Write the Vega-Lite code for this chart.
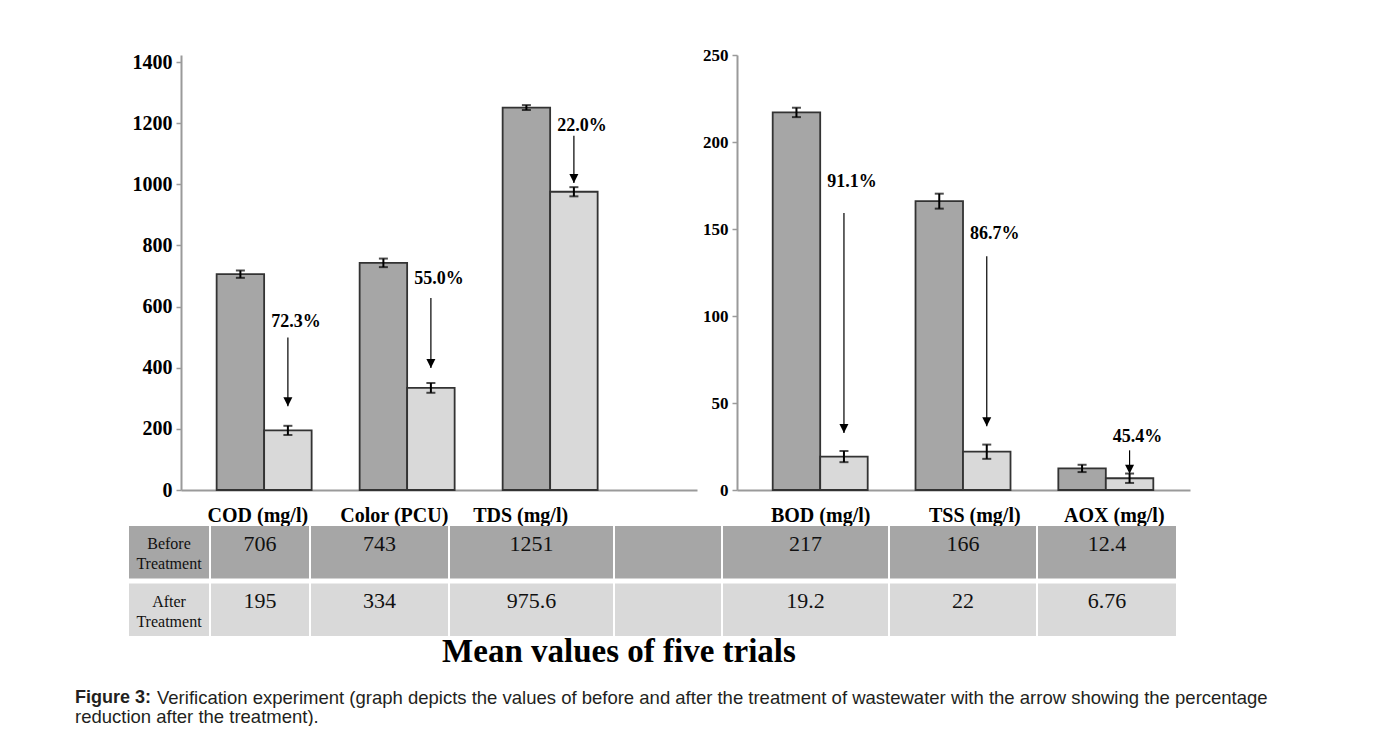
{
  "$schema": "https://vega.github.io/schema/vega-lite/v6.json",
  "padding": {"left": 75, "top": 46, "right": 0, "bottom": 0},
  "background": "white",
  "config": {"view": {"stroke": null}},
  "datasets": {
    "bars": [
      {"panel": "left", "param": "COD (mg/l)", "phase": "Before", "value": 706, "lo": 694, "hi": 718},
      {"panel": "left", "param": "COD (mg/l)", "phase": "After", "value": 195, "lo": 180, "hi": 210},
      {"panel": "left", "param": "Color (PCU)", "phase": "Before", "value": 743, "lo": 729, "hi": 757},
      {"panel": "left", "param": "Color (PCU)", "phase": "After", "value": 334, "lo": 318, "hi": 350},
      {"panel": "left", "param": "TDS (mg/l)", "phase": "Before", "value": 1251, "lo": 1243, "hi": 1259},
      {"panel": "left", "param": "TDS (mg/l)", "phase": "After", "value": 975.6, "lo": 960.6, "hi": 990.6},
      {"panel": "right", "param": "BOD (mg/l)", "phase": "Before", "value": 217, "lo": 214.3, "hi": 219.7},
      {"panel": "right", "param": "BOD (mg/l)", "phase": "After", "value": 19.2, "lo": 16, "hi": 22.4},
      {"panel": "right", "param": "TSS (mg/l)", "phase": "Before", "value": 166, "lo": 161.7, "hi": 170.3},
      {"panel": "right", "param": "TSS (mg/l)", "phase": "After", "value": 22, "lo": 17.9, "hi": 26.1},
      {"panel": "right", "param": "AOX (mg/l)", "phase": "Before", "value": 12.4, "lo": 10.3, "hi": 14.5},
      {"panel": "right", "param": "AOX (mg/l)", "phase": "After", "value": 6.76, "lo": 4.06, "hi": 9.46}
    ],
    "notes": [
      {"panel": "left", "param": "COD (mg/l)", "phase": "After", "pct": "72.3%", "label_y": 548, "arrow_top": 499, "arrow_tip": 274},
      {"panel": "left", "param": "Color (PCU)", "phase": "After", "pct": "55.0%", "label_y": 690, "arrow_top": 628, "arrow_tip": 399},
      {"panel": "left", "param": "TDS (mg/l)", "phase": "After", "pct": "22.0%", "label_y": 1191, "arrow_top": 1159, "arrow_tip": 1004},
      {"panel": "right", "param": "BOD (mg/l)", "phase": "After", "pct": "91.1%", "label_y": 176.8, "arrow_top": 159.2, "arrow_tip": 32.8},
      {"panel": "right", "param": "TSS (mg/l)", "phase": "After", "pct": "86.7%", "label_y": 147.1, "arrow_top": 134.3, "arrow_tip": 36.6},
      {"panel": "right", "param": "AOX (mg/l)", "phase": "After", "pct": "45.4%", "label_y": 30.5, "arrow_top": 22.8, "arrow_tip": 9.4}
    ],
    "rowlabels": [
      {"col": "label", "phase": "Before", "label": ["Before", "Treatment"]},
      {"col": "label", "phase": "After", "label": ["After", "Treatment"]}
    ],
    "blank": [
      {"col": "gap", "phase": "Before"},
      {"col": "gap", "phase": "After"}
    ],
    "caption": [
      {"line": 1, "part": "title", "text": "Mean values of five trials"},
      {"line": 1, "part": "bold", "text": "Figure 3:"},
      {"line": 1, "part": "normal", "text": "Verification experiment (graph depicts the values of before and after the treatment of wastewater with the arrow showing the percentage"},
      {"line": 2, "part": "normal", "text": "reduction after the treatment)."}
    ]
  },
  "spacing": 0,
  "vconcat": [
    {
      "spacing": 40,
      "bounds": "flush",
      "hconcat": [
        {"width": 66, "height": 471, "data": {"values": []}, "mark": "point"},
        {
          "width": 516, "height": 435,
          "data": {"name": "bars"},
          "transform": [{"filter": "datum.panel === 'left'"}],
          "encoding": {
            "x": {"field": "param", "type": "nominal", "sort": ["COD (mg/l)", "Color (PCU)", "TDS (mg/l)"], "title": null,
                  "scale": {"paddingInner": 0.3357, "paddingOuter": 0.472, "align": 0.264},
                  "axis": {"ticks": false, "tickSize": 0, "domainColor": "#9a9a9a", "domainWidth": 2, "labelAngle": 0, "labelOverlap": false, "labelLimit": 0,
                           "labelFont": "Liberation Serif", "labelFontWeight": "bold", "labelFontSize": 20, "labelColor": "#000000", "labelPadding": 15.5,
                           "labelOffset": {"condition": [{"test": "datum.value === 'Color (PCU)'", "value": -12.8}, {"test": "datum.value === 'TDS (mg/l)'", "value": -29.5}], "value": -6.3}}},
            "xOffset": {"field": "phase", "type": "nominal", "sort": ["Before", "After"], "scale": {"paddingInner": 0, "paddingOuter": 0}}
          },
          "layer": [
            {"mark": {"type": "bar", "stroke": "#333333", "strokeWidth": 1.8},
             "encoding": {
               "y": {"field": "value", "type": "quantitative", "title": null,
                     "scale": {"domain": [0, 1422.9], "nice": false},
                     "axis": {"values": [0, 200, 400, 600, 800, 1000, 1200, 1400], "format": "d", "grid": false, "domainColor": "#9a9a9a", "domainWidth": 2,
                              "tickColor": "#9a9a9a", "tickSize": 5, "tickWidth": 1.5, "labelFont": "Liberation Serif", "labelFontWeight": "bold",
                              "labelFontSize": 20, "labelColor": "#000000", "labelPadding": 4}},
               "fill": {"field": "phase", "type": "nominal", "scale": {"domain": ["Before", "After"], "range": ["#a6a6a6", "#d9d9d9"]}, "legend": null}
             }},
            {"mark": {"type": "rule", "color": "#000000", "strokeWidth": 2},
             "encoding": {"y": {"field": "lo", "type": "quantitative", "title": null}, "y2": {"field": "hi"}}},
            {"mark": {"type": "tick", "color": "#000000", "thickness": 2, "size": 9},
             "encoding": {"y": {"field": "lo", "type": "quantitative", "title": null}}},
            {"mark": {"type": "tick", "color": "#000000", "thickness": 2, "size": 9},
             "encoding": {"y": {"field": "hi", "type": "quantitative", "title": null}}},
            {"data": {"name": "notes"}, "transform": [{"filter": "datum.panel === 'left'"}],
             "mark": {"type": "rule", "color": "#000000", "strokeWidth": 1.2},
             "encoding": {"y": {"field": "arrow_top", "type": "quantitative", "title": null}, "y2": {"field": "arrow_tip"}}},
            {"data": {"name": "notes"}, "transform": [{"filter": "datum.panel === 'left'"}],
             "mark": {"type": "point", "shape": "M-1,-2L1,-2L0,0Z", "filled": true, "color": "#000000", "size": 81, "opacity": 1},
             "encoding": {"y": {"field": "arrow_tip", "type": "quantitative", "title": null}}},
            {"data": {"name": "notes"}, "transform": [{"filter": "datum.panel === 'left'"}],
             "mark": {"type": "text", "font": "Liberation Serif", "fontWeight": "bold", "fontSize": 18, "dx": 8, "baseline": "middle", "color": "#000000"},
             "encoding": {"y": {"field": "label_y", "type": "quantitative", "title": null}, "text": {"field": "pct"}}}
          ]
        },
        {
          "width": 453, "height": 435,
          "data": {"name": "bars"},
          "transform": [{"filter": "datum.panel === 'right'"}],
          "encoding": {
            "x": {"field": "param", "type": "nominal", "sort": ["BOD (mg/l)", "TSS (mg/l)", "AOX (mg/l)"], "title": null,
                  "scale": {"paddingInner": 0.328, "paddingOuter": 0.25},
                  "axis": {"ticks": false, "tickSize": 0, "domainColor": "#9a9a9a", "domainWidth": 2, "labelAngle": 0, "labelOverlap": false, "labelLimit": 0,
                           "labelFont": "Liberation Serif", "labelFontWeight": "bold", "labelFontSize": 20, "labelColor": "#000000", "labelPadding": 15.5,
                           "labelOffset": {"condition": [{"test": "datum.value === 'TSS (mg/l)'", "value": 11.3}, {"test": "datum.value === 'AOX (mg/l)'", "value": 8}], "value": 0}}},
            "xOffset": {"field": "phase", "type": "nominal", "sort": ["Before", "After"], "scale": {"paddingInner": 0, "paddingOuter": 0}}
          },
          "layer": [
            {"mark": {"type": "bar", "stroke": "#333333", "strokeWidth": 1.8},
             "encoding": {
               "y": {"field": "value", "type": "quantitative", "title": null,
                     "scale": {"domain": [0, 250], "nice": false},
                     "axis": {"values": [0, 50, 100, 150, 200, 250], "format": "d", "grid": false, "domainColor": "#9a9a9a", "domainWidth": 2,
                              "tickColor": "#9a9a9a", "tickSize": 5, "tickWidth": 1.5, "labelFont": "Liberation Serif", "labelFontWeight": "bold",
                              "labelFontSize": 17, "labelColor": "#000000", "labelPadding": 4}},
               "fill": {"field": "phase", "type": "nominal", "scale": {"domain": ["Before", "After"], "range": ["#a6a6a6", "#d9d9d9"]}, "legend": null}
             }},
            {"mark": {"type": "rule", "color": "#000000", "strokeWidth": 2},
             "encoding": {"y": {"field": "lo", "type": "quantitative", "title": null}, "y2": {"field": "hi"}}},
            {"mark": {"type": "tick", "color": "#000000", "thickness": 2, "size": 9},
             "encoding": {"y": {"field": "lo", "type": "quantitative", "title": null}}},
            {"mark": {"type": "tick", "color": "#000000", "thickness": 2, "size": 9},
             "encoding": {"y": {"field": "hi", "type": "quantitative", "title": null}}},
            {"data": {"name": "notes"}, "transform": [{"filter": "datum.panel === 'right'"}],
             "mark": {"type": "rule", "color": "#000000", "strokeWidth": 1.2},
             "encoding": {"y": {"field": "arrow_top", "type": "quantitative", "title": null}, "y2": {"field": "arrow_tip"}}},
            {"data": {"name": "notes"}, "transform": [{"filter": "datum.panel === 'right'"}],
             "mark": {"type": "point", "shape": "M-1,-2L1,-2L0,0Z", "filled": true, "color": "#000000", "size": 81, "opacity": 1},
             "encoding": {"y": {"field": "arrow_tip", "type": "quantitative", "title": null}}},
            {"data": {"name": "notes"}, "transform": [{"filter": "datum.panel === 'right'"}],
             "mark": {"type": "text", "font": "Liberation Serif", "fontWeight": "bold", "fontSize": 18, "dx": 8, "baseline": "middle", "color": "#000000"},
             "encoding": {"y": {"field": "label_y", "type": "quantitative", "title": null}, "text": {"field": "pct"}}}
          ]
        }
      ]
    },
    {
      "spacing": 2,
      "bounds": "flush",
      "hconcat": [
        {"width": 52, "height": 110, "data": {"values": []}, "mark": "point"},
        {
          "width": 80, "height": 110,
          "data": {"name": "rowlabels"},
          "encoding": {
            "x": {"field": "col", "type": "nominal", "axis": null, "scale": {"paddingInner": 0, "paddingOuter": 0}},
            "y": {"field": "phase", "type": "nominal", "sort": ["Before", "After"], "axis": null, "scale": {"paddingInner": 0.087, "paddingOuter": 0}}
          },
          "layer": [
            {"mark": {"type": "rect"}, "encoding": {"color": {"field": "phase", "type": "nominal", "scale": {"domain": ["Before", "After"], "range": ["#a6a6a6", "#d9d9d9"]}, "legend": null}}},
            {"mark": {"type": "text", "font": "Liberation Serif", "fontSize": 16, "lineHeight": 20, "color": "#111111", "baseline": "middle"},
             "encoding": {"text": {"field": "label"}, "y": {"field": "phase", "type": "nominal", "sort": ["Before", "After"], "bandPosition": 0.35}}}
          ]
        },
        {
          "width": 98, "height": 110,
          "data": {"name": "bars"}, "transform": [{"filter": "datum.param === 'COD (mg/l)'"}],
          "encoding": {
            "x": {"field": "param", "type": "nominal", "axis": null, "scale": {"paddingInner": 0, "paddingOuter": 0}},
            "y": {"field": "phase", "type": "nominal", "sort": ["Before", "After"], "axis": null, "scale": {"paddingInner": 0.087, "paddingOuter": 0}}
          },
          "layer": [
            {"mark": {"type": "rect"}, "encoding": {"color": {"field": "phase", "type": "nominal", "scale": {"domain": ["Before", "After"], "range": ["#a6a6a6", "#d9d9d9"]}, "legend": null}}},
            {"mark": {"type": "text", "font": "Liberation Serif", "fontSize": 22, "color": "#111111", "baseline": "middle"},
             "encoding": {"text": {"field": "value", "type": "nominal"}, "y": {"field": "phase", "type": "nominal", "sort": ["Before", "After"], "bandPosition": 0.34}}}
          ]
        },
        {
          "width": 137, "height": 110,
          "data": {"name": "bars"}, "transform": [{"filter": "datum.param === 'Color (PCU)'"}],
          "encoding": {
            "x": {"field": "param", "type": "nominal", "axis": null, "scale": {"paddingInner": 0, "paddingOuter": 0}},
            "y": {"field": "phase", "type": "nominal", "sort": ["Before", "After"], "axis": null, "scale": {"paddingInner": 0.087, "paddingOuter": 0}}
          },
          "layer": [
            {"mark": {"type": "rect"}, "encoding": {"color": {"field": "phase", "type": "nominal", "scale": {"domain": ["Before", "After"], "range": ["#a6a6a6", "#d9d9d9"]}, "legend": null}}},
            {"mark": {"type": "text", "font": "Liberation Serif", "fontSize": 22, "color": "#111111", "baseline": "middle"},
             "encoding": {"text": {"field": "value", "type": "nominal"}, "y": {"field": "phase", "type": "nominal", "sort": ["Before", "After"], "bandPosition": 0.34}}}
          ]
        },
        {
          "width": 163, "height": 110,
          "data": {"name": "bars"}, "transform": [{"filter": "datum.param === 'TDS (mg/l)'"}],
          "encoding": {
            "x": {"field": "param", "type": "nominal", "axis": null, "scale": {"paddingInner": 0, "paddingOuter": 0}},
            "y": {"field": "phase", "type": "nominal", "sort": ["Before", "After"], "axis": null, "scale": {"paddingInner": 0.087, "paddingOuter": 0}}
          },
          "layer": [
            {"mark": {"type": "rect"}, "encoding": {"color": {"field": "phase", "type": "nominal", "scale": {"domain": ["Before", "After"], "range": ["#a6a6a6", "#d9d9d9"]}, "legend": null}}},
            {"mark": {"type": "text", "font": "Liberation Serif", "fontSize": 22, "color": "#111111", "baseline": "middle"},
             "encoding": {"text": {"field": "value", "type": "nominal"}, "y": {"field": "phase", "type": "nominal", "sort": ["Before", "After"], "bandPosition": 0.34}}}
          ]
        },
        {
          "width": 106, "height": 110,
          "data": {"name": "blank"},
          "encoding": {
            "x": {"field": "col", "type": "nominal", "axis": null, "scale": {"paddingInner": 0, "paddingOuter": 0}},
            "y": {"field": "phase", "type": "nominal", "sort": ["Before", "After"], "axis": null, "scale": {"paddingInner": 0.087, "paddingOuter": 0}},
            "color": {"field": "phase", "type": "nominal", "scale": {"domain": ["Before", "After"], "range": ["#a6a6a6", "#d9d9d9"]}, "legend": null}
          },
          "mark": {"type": "rect"}
        },
        {
          "width": 165, "height": 110,
          "data": {"name": "bars"}, "transform": [{"filter": "datum.param === 'BOD (mg/l)'"}],
          "encoding": {
            "x": {"field": "param", "type": "nominal", "axis": null, "scale": {"paddingInner": 0, "paddingOuter": 0}},
            "y": {"field": "phase", "type": "nominal", "sort": ["Before", "After"], "axis": null, "scale": {"paddingInner": 0.087, "paddingOuter": 0}}
          },
          "layer": [
            {"mark": {"type": "rect"}, "encoding": {"color": {"field": "phase", "type": "nominal", "scale": {"domain": ["Before", "After"], "range": ["#a6a6a6", "#d9d9d9"]}, "legend": null}}},
            {"mark": {"type": "text", "font": "Liberation Serif", "fontSize": 22, "color": "#111111", "baseline": "middle"},
             "encoding": {"text": {"field": "value", "type": "nominal"}, "y": {"field": "phase", "type": "nominal", "sort": ["Before", "After"], "bandPosition": 0.34}}}
          ]
        },
        {
          "width": 146, "height": 110,
          "data": {"name": "bars"}, "transform": [{"filter": "datum.param === 'TSS (mg/l)'"}],
          "encoding": {
            "x": {"field": "param", "type": "nominal", "axis": null, "scale": {"paddingInner": 0, "paddingOuter": 0}},
            "y": {"field": "phase", "type": "nominal", "sort": ["Before", "After"], "axis": null, "scale": {"paddingInner": 0.087, "paddingOuter": 0}}
          },
          "layer": [
            {"mark": {"type": "rect"}, "encoding": {"color": {"field": "phase", "type": "nominal", "scale": {"domain": ["Before", "After"], "range": ["#a6a6a6", "#d9d9d9"]}, "legend": null}}},
            {"mark": {"type": "text", "font": "Liberation Serif", "fontSize": 22, "color": "#111111", "baseline": "middle"},
             "encoding": {"text": {"field": "value", "type": "nominal"}, "y": {"field": "phase", "type": "nominal", "sort": ["Before", "After"], "bandPosition": 0.34}}}
          ]
        },
        {
          "width": 138, "height": 110,
          "data": {"name": "bars"}, "transform": [{"filter": "datum.param === 'AOX (mg/l)'"}],
          "encoding": {
            "x": {"field": "param", "type": "nominal", "axis": null, "scale": {"paddingInner": 0, "paddingOuter": 0}},
            "y": {"field": "phase", "type": "nominal", "sort": ["Before", "After"], "axis": null, "scale": {"paddingInner": 0.087, "paddingOuter": 0}}
          },
          "layer": [
            {"mark": {"type": "rect"}, "encoding": {"color": {"field": "phase", "type": "nominal", "scale": {"domain": ["Before", "After"], "range": ["#a6a6a6", "#d9d9d9"]}, "legend": null}}},
            {"mark": {"type": "text", "font": "Liberation Serif", "fontSize": 22, "color": "#111111", "baseline": "middle"},
             "encoding": {"text": {"field": "value", "type": "nominal"}, "y": {"field": "phase", "type": "nominal", "sort": ["Before", "After"], "bandPosition": 0.34}}}
          ]
        }
      ]
    },
    {
      "width": 1100, "height": 18.5,
      "data": {"name": "caption"},
      "encoding": {
        "y": {"field": "line", "type": "ordinal", "axis": null, "scale": {"type": "point", "padding": 0}}
      },
      "layer": [
        {"transform": [{"filter": "datum.part === 'title'"}],
         "mark": {"type": "text", "align": "center", "baseline": "middle", "font": "Liberation Serif", "fontSize": 33, "fontWeight": "bold", "color": "#000000", "dx": -6, "dy": -46},
         "encoding": {"text": {"field": "text"}, "x": {"datum": 0.5, "type": "quantitative", "axis": null, "scale": {"domain": [0, 1]}}}},
        {"transform": [{"filter": "datum.part === 'bold'"}],
         "mark": {"type": "text", "align": "left", "baseline": "middle", "font": "Liberation Sans", "fontSize": 18, "fontWeight": "bold", "color": "#231f20"},
         "encoding": {"text": {"field": "text"}, "x": {"datum": 0, "type": "quantitative", "axis": null, "scale": {"domain": [0, 1]}}}},
        {"transform": [{"filter": "datum.part === 'normal' && datum.line === 1"}],
         "mark": {"type": "text", "align": "left", "baseline": "middle", "font": "Liberation Sans", "fontSize": 18.5, "color": "#231f20", "dx": 82},
         "encoding": {"text": {"field": "text"}, "x": {"datum": 0, "type": "quantitative", "axis": null, "scale": {"domain": [0, 1]}}}},
        {"transform": [{"filter": "datum.line === 2"}],
         "mark": {"type": "text", "align": "left", "baseline": "middle", "font": "Liberation Sans", "fontSize": 18.5, "color": "#231f20"},
         "encoding": {"text": {"field": "text"}, "x": {"datum": 0, "type": "quantitative", "axis": null, "scale": {"domain": [0, 1]}}}}
      ]
    }
  ]
}
